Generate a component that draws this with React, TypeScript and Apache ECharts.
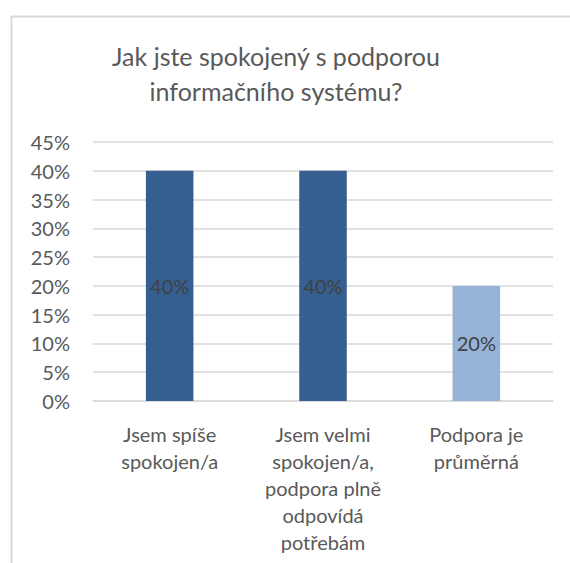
import React, { useEffect, useRef } from "react";
import * as echarts from "echarts";

const titleText = "Jak jste spokojený s podporou\ninformačního systému?";
const categories = [
  "Jsem spíše\nspokojen/a",
  "Jsem velmi\nspokojen/a,\npodpora plně\nodpovídá\npotřebám",
  "Podpora je\nprůměrná",
];
const values = [0.4, 0.4, 0.2];
const barColors = ["#365F91", "#365F91", "#95B3D7"];

export default function App() {
  const ref = useRef<HTMLDivElement>(null);
  useEffect(() => {
    if (!ref.current) return;
    const chart = echarts.init(ref.current, undefined, { renderer: "svg" });
    const font = "Lato, 'Open Sans', sans-serif";
    chart.setOption({
      animation: false,
      backgroundColor: "#ffffff",
      textStyle: { fontFamily: font },
      graphic: [
        {
          type: "rect",
          shape: { x: 11.5, y: 16.5, width: 700, height: 700 },
          style: { fill: "none", stroke: "#d9d9d9", lineWidth: 2 },
          silent: true,
        },
      ],
      title: {
        text: titleText,
        left: 271,
        top: 33,
        textAlign: "center",
        textStyle: {
          fontFamily: font,
          fontSize: 25,
          fontWeight: "normal",
          color: "#595959",
          lineHeight: 35,
        },
      },
      grid: { left: 93, right: 17, top: 142, bottom: 162, containLabel: false },
      xAxis: {
        type: "category",
        data: categories,
        axisLine: { lineStyle: { color: "#d9d9d9", width: 1.5 } },
        axisTick: { show: false },
        axisLabel: {
          color: "#595959",
          fontSize: 20,
          lineHeight: 27,
          margin: 19,
          interval: 0,
          fontFamily: font,
        },
      },
      yAxis: {
        type: "value",
        min: 0,
        max: 0.45,
        interval: 0.05,
        axisLine: { show: false },
        axisTick: { show: false },
        splitLine: { lineStyle: { color: "#d9d9d9", width: 1.5 } },
        axisLabel: {
          color: "#595959",
          fontSize: 20,
          margin: 23,
          fontFamily: font,
          formatter: (v: number) => Math.round(v * 100) + "%",
        },
      },
      series: [
        {
          type: "bar",
          data: values.map((v, i) => ({ value: v, itemStyle: { color: barColors[i] } })),
          barWidth: "31%",
          label: {
            show: true,
            position: "inside",
            color: "#404040",
            fontSize: 20,
            fontFamily: font,
            formatter: (p: any) => Math.round(p.value * 100) + "%",
          },
        },
      ],
    });
    return () => chart.dispose();
  }, []);
  return (
    <div
      ref={ref}
      style={{ position: "fixed", left: 0, top: 0, width: 570, height: 563 }}
    />
  );
}
